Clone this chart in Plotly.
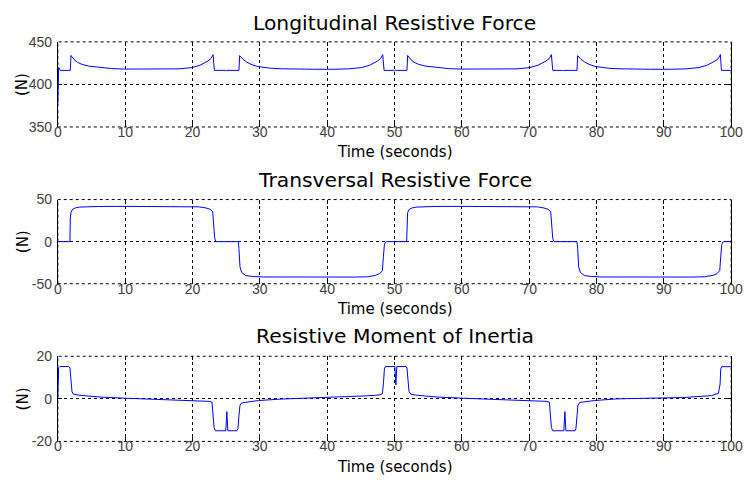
import plotly.graph_objects as go

# ---- Longitudinal resistive force (N) vs time (s) ----
t_long = [0, 0.12, 0.35, 1.85,
          1.95, 2.4, 2.9, 3.6, 4.6, 5.5, 6.5, 8.0, 10.0, 13.0, 16.0, 18.0, 19.9, 21.1, 22.3, 22.75, 23.05,
          23.25, 24.9, 25.0, 25.1, 26.9,
          27.0, 27.5, 28.0, 28.7, 29.7, 30.6, 31.6, 33.0, 35.0, 38.0, 41.0, 43.2, 45.1, 46.3, 47.5, 47.95, 48.25,
          48.45, 49.9, 50.0, 50.1, 51.85,
          51.95, 52.4, 52.9, 53.6, 54.6, 55.5, 56.5, 58.0, 60.0, 63.0, 66.0, 68.2, 70.1, 71.3, 72.5, 73.0, 73.3,
          73.5, 74.9, 75.0, 75.1, 77.1,
          77.2, 77.7, 78.2, 78.9, 79.9, 80.8, 81.8, 83.2, 85.0, 88.0, 91.0, 93.3, 95.2, 96.4, 97.6, 98.1, 98.4,
          98.55, 100.0]
f_long = [376, 420, 416.5, 416.5,
          434, 429.5, 426, 423.5, 421.5, 420.5, 419.5, 418.6, 418.0, 417.8, 417.8, 418.3, 419.8, 422.5, 427.5, 430.5, 435,
          416.5, 416.5, 415.8, 416.5, 416.5,
          433.8, 429.5, 426.5, 423.5, 421, 419.8, 419, 418.4, 418, 417.8, 417.8, 418.3, 419.8, 422.5, 427.5, 430.5, 435,
          416.5, 416.5, 415.8, 416.5, 416.5,
          434, 429.5, 426, 423.5, 421.5, 420.5, 419.5, 418.6, 418.0, 417.8, 417.8, 418.3, 419.8, 422.5, 427.5, 430.5, 435,
          416.5, 416.5, 415.8, 416.5, 416.5,
          433.8, 429.5, 426.5, 423.5, 421, 419.8, 419, 418.4, 418, 417.8, 417.8, 418.3, 419.8, 422.5, 427.5, 430.5, 435,
          416.5, 416.5]

# ---- Transversal resistive force (N) vs time (s) ----
t_trans = [0, 1.8, 1.85, 1.95, 2.2, 2.6, 3.2, 4.2, 6.0, 10.0, 15.0, 19.0, 21.0, 22.0, 22.6, 23.0, 23.15, 23.3, 23.45, 23.6,
           26.8, 26.9, 27.05, 27.3, 27.9, 29.0, 30.5, 35.0, 40.0, 44.0, 46.0, 47.2, 47.8, 48.2, 48.35, 48.5, 48.65, 48.8,
           51.8, 51.85, 51.95, 52.2, 52.6, 53.2, 54.2, 56.0, 60.0, 65.0, 69.0, 71.2, 72.2, 72.8, 73.2, 73.35, 73.5, 73.65, 73.8,
           77.1, 77.2, 77.35, 77.6, 78.2, 79.3, 80.8, 85.0, 90.0, 94.0, 96.0, 97.3, 97.9, 98.3, 98.45, 98.6, 98.75, 98.9,
           100.0]
f_trans = [0, 0, 28, 34.5, 38.5, 40, 41, 41.5, 41.8, 41.9, 41.9, 41.8, 41.3, 40, 38.5, 35.5, 20, 4, 0.5, 0,
           0, -8, -30, -36.6, -40.3, -41.5, -42, -42.2, -42.2, -42.1, -41.8, -40, -38, -34.5, -18, -3.5, -0.5, 0,
           0, 28, 34.5, 38.5, 40, 41, 41.5, 41.8, 41.9, 41.9, 41.8, 41.3, 40, 38.5, 35.5, 20, 4, 0.5, 0,
           0, -8, -30, -36.6, -40.3, -41.5, -42, -42.2, -42.2, -42.1, -41.8, -40, -38, -34.5, -18, -3.5, -0.5, 0,
           0]

# ---- Resistive moment of inertia vs time (s) ----
t_mom = [0, 0.12, 0.3, 1.6, 1.8, 1.95, 2.1, 2.3, 3.0, 4.5, 6.5, 10.0, 13.0, 17.7, 20.1, 22.5, 22.9, 23.05, 23.2, 23.4,
         24.95, 25.1, 25.25, 26.6, 26.75, 26.9, 27.05, 27.3, 29.8, 33.2, 37.5, 42.4, 45.8, 47.7, 48.2, 48.35, 48.5, 48.65,
         50.05, 50.2, 50.35, 51.7, 51.85, 52.0, 52.15, 52.4, 53.1, 54.6, 56.6, 60.1, 63.1, 67.8, 70.2, 72.6, 73.0, 73.15, 73.3, 73.5,
         75.15, 75.3, 75.45, 76.8, 76.95, 77.1, 77.25, 77.5, 79.7, 83.1, 87.9, 92.8, 97.1, 98.1, 98.35, 98.45, 98.6, 98.75,
         100.0]
f_mom = [0, 14.6, 15.2, 15.2, 14.5, 9, 3.5, 2.2, 1.8, 1.3, 0.8, 0.3, 0, -0.6, -0.9, -1.2, -1.6, -6, -13.5, -15,
         -15, -6, -15, -15, -14, -8, -3, -1.9, -0.8, -0.1, 0.3, 0.9, 1.4, 1.8, 2.4, 7, 14, 15.2,
         15.2, 6.5, 15.2, 15.2, 14.5, 9, 3.5, 2.2, 1.8, 1.3, 0.8, 0.3, 0, -0.6, -0.9, -1.2, -1.6, -6, -13.5, -15,
         -15, -6, -15, -15, -14, -8, -3, -1.7, -0.8, 0, 0.3, 0.6, 1.5, 2.6, 7, 14, 15.1, 15.1,
         15.1]

titles = ["Longitudinal Resistive Force", "Transversal Resistive Force", "Resistive Moment of Inertia"]
x_label = "Time (seconds)"
y_label = "(N)"
x_ticks = [0, 10, 20, 30, 40, 50, 60, 70, 80, 90, 100]
y_ticks = [[350, 400, 450], [-50, 0, 50], [-20, 0, 20]]
y_ticktext = [["350", "400", "450"], ["-50", "0", "50"], ["-20", "0", "20"]]
series = [(t_long, f_long), (t_trans, f_trans), (t_mom, f_mom)]

W, H = 752, 491
PX_L, PX_R = 55, 743
# (top, bottom) pixel rows of each plot area
rows_px = [(35, 123), (198, 285), (360, 448)]
title_px = [16, 178, 339.5]
xlabel_px = [149, 311, 474]

TXT_FONT = "DejaVu Sans, Verdana, sans-serif"
TICK_FONT = "Liberation Sans, Arial, Helvetica, sans-serif"
fig = go.Figure()
layout = dict(width=W, height=H, margin=dict(l=0, r=0, t=0, b=0),
              paper_bgcolor="white", plot_bgcolor="white", showlegend=False,
              font=dict(family=TXT_FONT, color="#000"))
shapes, annotations = [], []
xd = [PX_L / W, PX_R / W]
tick_font = dict(family=TICK_FONT, size=14, color="#404040")
for i, ((tt, vv), yt, ytt) in enumerate(zip(series, y_ticks, y_ticktext)):
    n = "" if i == 0 else str(i + 1)
    top, bot = rows_px[i]
    yd = [1 - bot / H, 1 - top / H]
    fig.add_trace(go.Scatter(x=tt, y=vv, mode="lines", xaxis="x" + n, yaxis="y" + n,
                             line=dict(color="#0000ff", width=1)))
    layout["xaxis" + n] = dict(domain=xd, anchor="y" + n, range=[0, 100], tickvals=x_ticks,
                               ticks="inside", ticklen=4, tickcolor="#000", mirror="ticks",
                               showline=False, showgrid=True, gridcolor="#000", griddash="dot",
                               gridwidth=1, zeroline=False, tickfont=tick_font,
                               ticklabeloverflow="allow", ticklabelstandoff=-5,
                               layer="below traces")
    layout["yaxis" + n] = dict(domain=yd, anchor="x" + n, range=[yt[0], yt[-1]], tickvals=yt,
                               ticktext=ytt, ticks="inside", ticklen=4, tickcolor="#000",
                               mirror="ticks", showline=True, linecolor="#000", linewidth=1,
                               showgrid=True, gridcolor="#000", griddash="dot",
                               gridwidth=1, zeroline=False, tickfont=tick_font,
                               ticklabeloverflow="allow", ticklabelstandoff=2,
                               layer="below traces")
    shapes.append(dict(type="rect", xref="x" + n + " domain", yref="y" + n + " domain",
                       x0=0, x1=1, y0=0, y1=1, line=dict(color="#000", width=1, dash="dot"),
                       layer="below"))
    annotations.append(dict(text=titles[i], xref="paper", yref="paper", x=(PX_L + PX_R) / 2 / W,
                            y=1 - title_px[i] / H, xanchor="center", yanchor="middle",
                            showarrow=False, font=dict(size=20.3, color="#000")))
    annotations.append(dict(text=x_label, xref="paper", yref="paper", x=(PX_L + PX_R) / 2 / W,
                            y=1 - xlabel_px[i] / H, xanchor="center", yanchor="middle",
                            showarrow=False, font=dict(size=15, color="#000")))
    annotations.append(dict(text=y_label, xref="paper", yref="paper", x=19 / W,
                            y=1 - (top + bot) / 2 / H, xanchor="center", yanchor="middle",
                            textangle=-90, showarrow=False, font=dict(size=15, color="#000")))
layout["shapes"] = shapes
layout["annotations"] = annotations
fig.update_layout(**layout)
fig.write_html("out.html")
